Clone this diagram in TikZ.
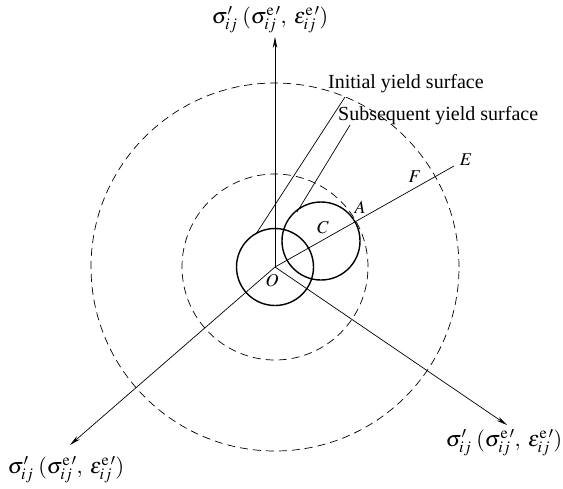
\documentclass[tikz,border=0pt]{standalone}
\usepackage{mathptmx}
\usepackage{fontspec}
\setmainfont{Liberation Serif}
\usetikzlibrary{arrows.meta, calc}

\newcommand{\axislab}{$\sigma'_{ij}\;(\sigma^{\mathrm{e}\,\prime}_{ij},\;\varepsilon^{\mathrm{e}\,\prime}_{ij})$}

\begin{document}
\begin{tikzpicture}[x=1pt, y=-1pt, >={Stealth[length=11pt, width=4.5pt]},
  axis/.style={->, line width=0.7pt},
  yieldsurf/.style={line width=1.4pt},
  loadsurf/.style={line width=0.7pt, dash pattern=on 8pt off 5pt},
  lbl/.style={font=\fontsize{18}{20}\selectfont, inner sep=1pt},
  axlbl/.style={font=\fontsize{22}{24}\selectfont, inner sep=1pt},
  txt/.style={font=\fontsize{20}{24}\selectfont, inner sep=0pt}]
  \useasboundingbox (0,0) rectangle (563,488);

  % Axes
  \coordinate (O) at (275,267);
  \coordinate (s1) at (275,37);
  \coordinate (s2) at (70,445);
  \coordinate (s3) at (507,425);
  \draw[axis] (O) -- (s1);
  \draw[axis] (O) -- (s2);
  \draw[axis] (O) -- (s3);
  \node[axlbl] (s1lab) at (270,20) {\axislab};
  \node[axlbl] (s2lab) at (66,470) {\axislab};
  \node[axlbl] (s3lab) at (504,443) {\axislab};

  % Loading surfaces (dashed)
  \draw[loadsurf] (O) circle[radius=93pt];
  \draw[loadsurf] (O) circle[radius=184pt];

  % Yield surfaces
  \coordinate (C) at (321,241);
  \draw[yieldsurf] (O) circle[radius=38.5pt];
  \draw[yieldsurf] (C) circle[radius=39pt];

  % Loading path O -> E
  \coordinate (E) at (454,166);
  \coordinate (A) at ($(O)!0.447!(E)$);
  \coordinate (F) at ($(O)!0.893!(E)$);
  \draw[line width=0.7pt] (O) -- (E);
  \node[lbl] (Olab) at (272,281) {$O$};
  \node[lbl] (Clab) at (323,228) {$C$};
  \node[lbl] (Alab) at (360,207) {$A$};
  \node[lbl] (Flab) at (415,177) {$F$};
  \node[lbl] (Elab) at (466,160) {$E$};

  % Leaders
  \node[txt, anchor=west] (initlab) at (328,84) {Initial yield surface};
  \node[txt, anchor=west] (sublab) at (338,116) {Subsequent yield surface};
  \coordinate (i0) at ($(O)+(-19,-33)$);
  \coordinate (i1) at (345,97);
  \draw[line width=0.7pt] (i0) -- (i1);
  \coordinate (c0) at (297,212);
  \coordinate (c1) at (350,125);
  \draw[line width=0.7pt] (c0) -- (c1);
\end{tikzpicture}
\end{document}
